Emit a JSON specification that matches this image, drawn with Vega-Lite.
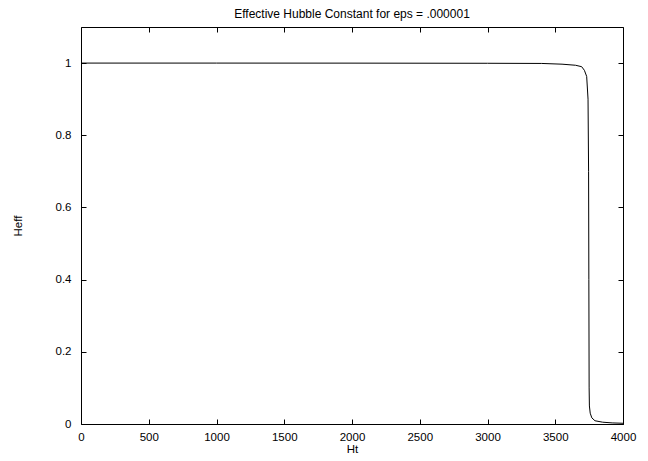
{
  "$schema": "https://vega.github.io/schema/vega-lite/v6.json",
  "autosize": "none",
  "width": 542,
  "height": 397,
  "padding": {"left": 81, "top": 27, "right": 25, "bottom": 37},
  "background": "white",
  "title": {"text": "Effective Hubble Constant for eps = .000001", "fontSize": 12, "fontWeight": "normal", "font": "Liberation Sans", "anchor": "middle", "offset": 6, "color": "black"},
  "config": {
    "view": {"stroke": "black", "strokeWidth": 1},
    "axis": {"grid": false, "domain": false, "tickColor": "black", "tickSize": -5, "labelFont": "Liberation Sans", "labelFontSize": 11.5, "labelColor": "black", "titleFont": "Liberation Sans", "titleFontSize": 11.5, "titleFontWeight": "normal", "titleColor": "black"}
  },
  "data": {"values": [
    {"Ht": 0, "Heff": 1.0},
    {"Ht": 1000, "Heff": 1.0},
    {"Ht": 2000, "Heff": 0.9999},
    {"Ht": 3000, "Heff": 0.9995},
    {"Ht": 3400, "Heff": 0.999},
    {"Ht": 3550, "Heff": 0.997},
    {"Ht": 3650, "Heff": 0.994},
    {"Ht": 3695, "Heff": 0.99},
    {"Ht": 3715, "Heff": 0.98},
    {"Ht": 3732, "Heff": 0.963},
    {"Ht": 3742, "Heff": 0.9},
    {"Ht": 3746, "Heff": 0.7},
    {"Ht": 3748, "Heff": 0.4},
    {"Ht": 3750, "Heff": 0.1},
    {"Ht": 3752, "Heff": 0.05},
    {"Ht": 3758, "Heff": 0.03},
    {"Ht": 3770, "Heff": 0.017},
    {"Ht": 3793, "Heff": 0.009},
    {"Ht": 3850, "Heff": 0.005},
    {"Ht": 3920, "Heff": 0.003},
    {"Ht": 4000, "Heff": 0.002}
  ]},
  "layer": [
    {
      "mark": {"type": "line", "color": "black", "strokeWidth": 1, "clip": true},
      "encoding": {
        "x": {"field": "Ht", "type": "quantitative", "scale": {"domain": [0, 4000], "nice": false, "zero": false},
              "axis": {"orient": "bottom", "values": [0,500,1000,1500,2000,2500,3000,3500,4000], "format": "d", "labelPadding": 12, "title": "Ht", "titleY": 19, "titleBaseline": "top", "titleX": 271, "labelFlush": false}},
        "y": {"field": "Heff", "type": "quantitative", "scale": {"domain": [0, 1.1], "nice": false, "zero": false},
              "axis": {"orient": "left", "values": [0,0.2,0.4,0.6,0.8,1], "format": "~g", "labelPadding": 15, "title": "Heff", "titleX": -63, "titleY": 198.5, "titleAngle": -90, "titleBaseline": "middle", "titleAlign": "center"}}
      }
    },
    {
      "mark": {"type": "line", "opacity": 0},
      "encoding": {
        "x": {"field": "Ht", "type": "quantitative", "scale": {"domain": [0, 4000], "nice": false, "zero": false},
              "axis": {"orient": "top", "values": [0,500,1000,1500,2000,2500,3000,3500,4000], "labels": false, "title": null}},
        "y": {"field": "Heff", "type": "quantitative", "scale": {"domain": [0, 1.1], "nice": false, "zero": false},
              "axis": {"orient": "right", "values": [0,0.2,0.4,0.6,0.8,1], "labels": false, "title": null}}
      }
    }
  ],
  "resolve": {"axis": {"x": "independent", "y": "independent"}}
}
